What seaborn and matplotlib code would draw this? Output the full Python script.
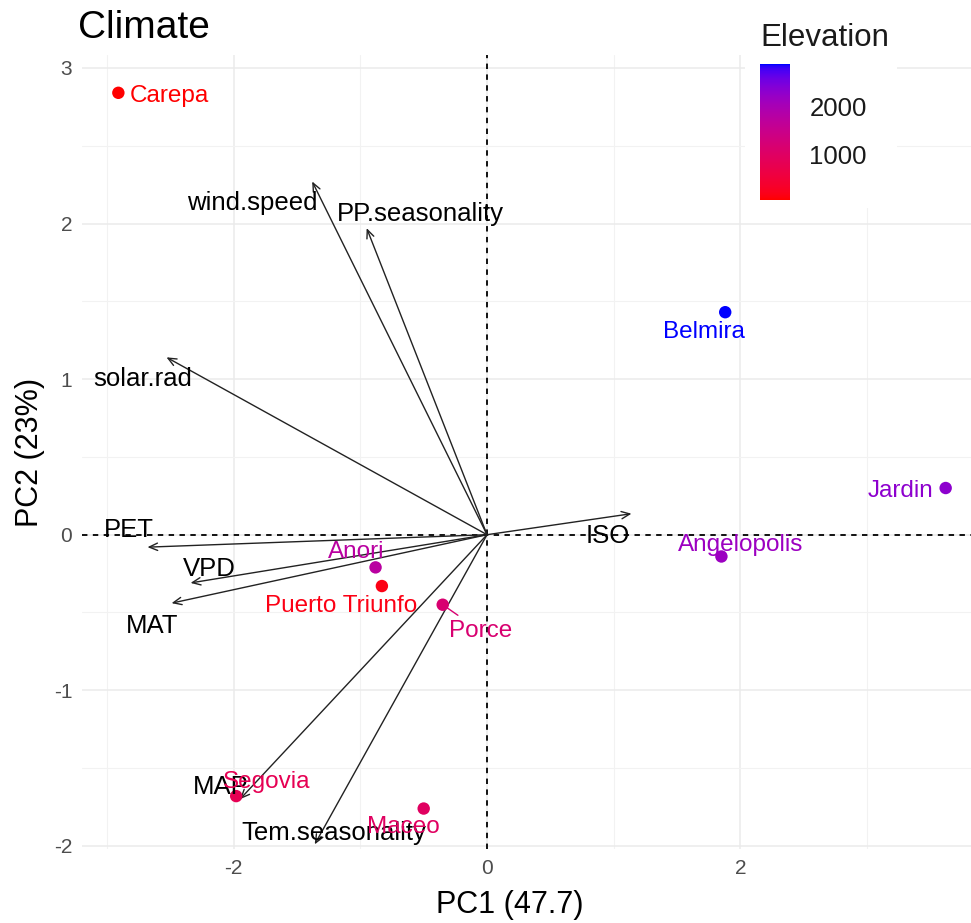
import numpy as np
import pandas as pd
import matplotlib
matplotlib.use("Agg")
import matplotlib.pyplot as plt
import seaborn as sns
from matplotlib.colors import LinearSegmentedColormap, Normalize
from matplotlib.ticker import MultipleLocator
from matplotlib.patches import Rectangle
from matplotlib.cm import ScalarMappable

# ---------------- data ----------------
sites = ["Carepa", "Belmira", "Jardin", "Angelopolis", "Anori",
         "Puerto Triunfo", "Porce", "Segovia", "Maceo"]
pc1 = [-2.91, 1.88, 3.62, 1.85, -0.88, -0.83, -0.35, -1.98, -0.50]
pc2 = [2.84, 1.43, 0.30, -0.14, -0.21, -0.33, -0.45, -1.68, -1.76]
elevation = [42, 2875, 2300, 2150, 1750, 150, 1150, 800, 950]
site_label_x = [-2.51, 1.71, 3.26, 2.00, -1.03, -1.15, -0.05, -1.74, -0.66]
site_label_y = [2.82, 1.30, 0.28, -0.065, -0.11, -0.46, -0.62, -1.59, -1.88]
segment_sites = ["Porce"]

variables = ["wind.speed", "PP.seasonality", "solar.rad", "PET", "VPD",
             "MAT", "MAP", "Tem.seasonality", "ISO"]
load_x = [-1.38, -0.95, -2.53, -2.68, -2.34, -2.49, -1.95, -1.36, 1.14]
load_y = [2.27, 1.97, 1.14, -0.08, -0.31, -0.44, -1.70, -1.99, 0.135]
var_label_x = [-1.85, -0.53, -2.72, -2.83, -2.19, -2.64, -2.10, -1.21, 0.955]
var_label_y = [2.13, 2.06, 1.00, 0.03, -0.22, -0.59, -1.62, -1.92, -0.01]

elev_range = (42, 2875)
cbar_ticks = [1000, 2000]

# ---------------- Lab gradient red -> blue (like ggplot) ----------------
def srgb_to_lab(rgb):
    rgb = np.asarray(rgb, float)
    lin = np.where(rgb <= 0.04045, rgb / 12.92, ((rgb + 0.055) / 1.055) ** 2.4)
    M = np.array([[0.4124, 0.3576, 0.1805],
                  [0.2126, 0.7152, 0.0722],
                  [0.0193, 0.1192, 0.9505]])
    xyz = M @ lin
    wp = np.array([0.95047, 1.0, 1.08883])
    t = xyz / wp
    f = np.where(t > (6 / 29) ** 3, np.cbrt(t), t / (3 * (6 / 29) ** 2) + 4 / 29)
    return np.array([116 * f[1] - 16, 500 * (f[0] - f[1]), 200 * (f[1] - f[2])])

def lab_to_srgb(lab):
    L, a, b = lab
    fy = (L + 16) / 116
    fx = fy + a / 500
    fz = fy - b / 200
    def finv(f):
        return np.where(f > 6 / 29, f ** 3, 3 * (6 / 29) ** 2 * (f - 4 / 29))
    wp = np.array([0.95047, 1.0, 1.08883])
    xyz = np.array([finv(fx), finv(fy), finv(fz)]) * wp
    Minv = np.array([[3.2406, -1.5372, -0.4986],
                     [-0.9689, 1.8758, 0.0415],
                     [0.0557, -0.2040, 1.0570]])
    lin = np.clip(Minv @ xyz, 0, 1)
    rgb = np.where(lin <= 0.0031308, 12.92 * lin, 1.055 * lin ** (1 / 2.4) - 0.055)
    return np.clip(rgb, 0, 1)

lab_lo = srgb_to_lab([1, 0, 0])
lab_hi = srgb_to_lab([0, 0, 1])
cols = [lab_to_srgb(lab_lo + (lab_hi - lab_lo) * t) for t in np.linspace(0, 1, 256)]
cmap = LinearSegmentedColormap.from_list("red_blue_lab", cols)
norm = Normalize(*elev_range)

# ---------------- figure ----------------
sns.set_theme(style="white")
plt.rcParams["font.family"] = ["Liberation Sans", "DejaVu Sans"]
plt.rcParams["axes.unicode_minus"] = False

W, H = 971, 923
P_TOP, P_BOT, P_LEFT, P_RIGHT = 55, 849, 82, 971
fig = plt.figure(figsize=(W / 100, H / 100), dpi=100)
ax = fig.add_axes([P_LEFT / W, 1 - P_BOT / H, (P_RIGHT - P_LEFT) / W, (P_BOT - P_TOP) / H])

ax.set_xlim(-3.197, 3.82)
ax.set_ylim(-2.02, 3.083)

ax.xaxis.set_major_locator(MultipleLocator(2))
ax.xaxis.set_minor_locator(MultipleLocator(1))
ax.yaxis.set_major_locator(MultipleLocator(1))
ax.yaxis.set_minor_locator(MultipleLocator(0.5))
ax.grid(which="major", color="#EBEBEB", lw=1.1, zorder=0)
ax.grid(which="minor", color="#F2F2F2", lw=0.8, zorder=0)
ax.set_axisbelow(True)
for s in ax.spines.values():
    s.set_visible(False)
ax.tick_params(which="major", length=4, width=1, color="#4D4D4D",
               labelsize=15, labelcolor="#4D4D4D", pad=3)
ax.tick_params(which="minor", length=0)

ax.axhline(0, color="black", lw=1.3, ls=(0, (3, 3)), zorder=1)
ax.axvline(0, color="black", lw=1.3, ls=(0, (3, 3)), zorder=1)

# loadings arrows
for v, lx, ly, tx, ty in zip(variables, load_x, load_y, var_label_x, var_label_y):
    ax.annotate("", xy=(lx, ly), xytext=(0, 0),
                arrowprops=dict(arrowstyle="->,head_length=0.5,head_width=0.22",
                                color="#222222", lw=1.0, shrinkA=0, shrinkB=0),
                zorder=2)
    ax.text(tx, ty, v, ha="center", va="center", fontsize=18.5,
            color="black", zorder=4)

df = pd.DataFrame({"site": sites, "PC1": pc1, "PC2": pc2, "Elevation": elevation})
sns.scatterplot(data=df, x="PC1", y="PC2", hue="Elevation", palette=cmap,
                hue_norm=norm, s=80, edgecolor="none", legend=False, ax=ax,
                zorder=3)

for name, px, py, tx, ty, e in zip(sites, pc1, pc2, site_label_x, site_label_y, elevation):
    c = cmap(norm(e))
    if name in segment_sites:
        ax.plot([px, px + 0.4 * (tx - px)], [py, py + 0.4 * (ty - py)],
                color=c, lw=1.0, zorder=3)
    ax.text(tx, ty, name, ha="center", va="center", fontsize=17.5, color=c, zorder=4)

ax.set_xlabel("PC1 (47.7)", fontsize=22, color="black")
ax.set_ylabel("PC2 (23%)", fontsize=22, color="black", labelpad=6)
ax.xaxis.set_label_coords((510 - P_LEFT) / (P_RIGHT - P_LEFT),
                          -(905 - P_BOT) / (P_BOT - P_TOP))
ax.xaxis.label.set_va("center")

fig.text(78 / W, 1 - 38 / H, "Climate", fontsize=28, color="black",
         ha="left", va="baseline")

# legend (colorbar) with white background
fig.patches.append(Rectangle((745 / W, 1 - 208 / H), 152 / W, 188 / H,
                             transform=fig.transFigure, facecolor="white",
                             edgecolor="none", zorder=5))
cax = fig.add_axes([760 / W, 1 - 200 / H, 30 / W, 136 / H], zorder=6)
sm = ScalarMappable(norm=norm, cmap=cmap)
cb = fig.colorbar(sm, cax=cax, ticks=cbar_ticks)
cb.outline.set_visible(False)
cax.tick_params(which="major", direction="in", length=5, width=1.2,
                color="white", left=True, right=True, labelsize=18.5,
                labelcolor="#1A1A1A", pad=14)
cax.tick_params(which="minor", length=0)
fig.text(760 / W, 1 - 46 / H, "Elevation", fontsize=22.5, color="#1A1A1A",
         ha="left", va="baseline", zorder=7)

fig.savefig("out.png", dpi=100)
